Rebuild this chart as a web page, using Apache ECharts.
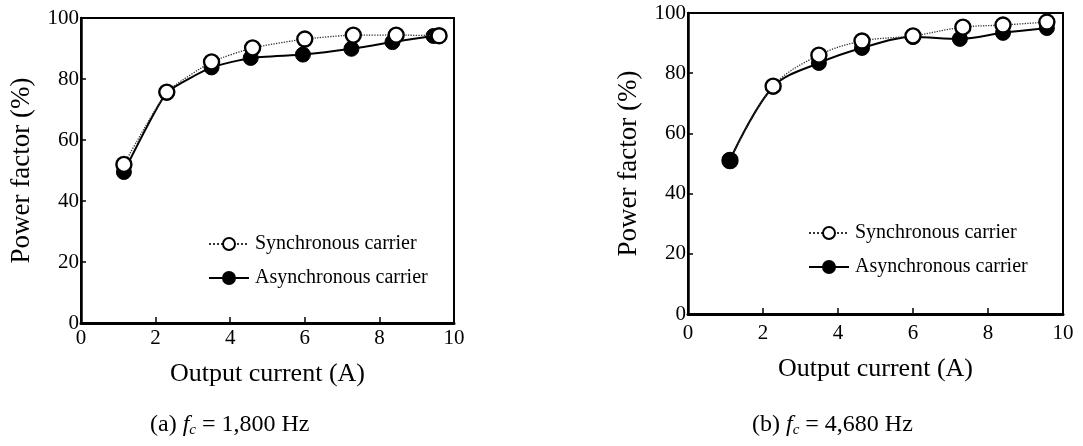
<!DOCTYPE html>
<html><head><meta charset="utf-8">
<script src="https://cdn.jsdelivr.net/npm/echarts@6/dist/echarts.min.js"></script>
<style>html,body{margin:0;padding:0;background:#fff}#c{width:1083px;height:446px}</style>
</head><body><div id="c"></div>
<script>
// ---- data ----
const xTicks = [0, 2, 4, 6, 8, 10];
const yTicks = [0, 20, 40, 60, 80, 100];
const seriesNames = ['Synchronous carrier', 'Asynchronous carrier'];
// (a) fc = 1,800 Hz
const syncA_x  = [1.15, 2.3, 3.5, 4.6, 6.0, 7.3, 8.45, 9.6];
const syncA_y  = [52.0, 75.7, 85.6, 90.2, 93.1, 94.4, 94.4, 94.2];
const asyncA_x = [1.15, 2.3, 3.5, 4.55, 5.95, 7.25, 8.35, 9.45];
const asyncA_y = [49.5, 75.5, 83.8, 86.9, 88.0, 89.9, 92.1, 94.1];
// (b) fc = 4,680 Hz
const syncB_x  = [1.12, 2.27, 3.49, 4.64, 6.0, 7.33, 8.4, 9.57];
const syncB_y  = [51.0, 75.7, 86.0, 90.7, 92.4, 95.3, 96.0, 97.0];
const asyncB_x = [1.12, 2.27, 3.49, 4.64, 6.0, 7.25, 8.4, 9.57];
const asyncB_y = [51.2, 75.5, 83.4, 88.4, 92.0, 91.4, 93.4, 95.0];

const FONT = 'Liberation Serif';
const pairs = (xs, ys) => xs.map((x, i) => [x, ys[i]]);

function xAxisCfg(gi, labelMargin, nameGap) {
  return {
    type: 'value', gridIndex: gi, min: xTicks[0], max: xTicks[xTicks.length - 1], interval: xTicks[1] - xTicks[0],
    name: 'Output current (A)', nameLocation: 'middle', nameGap,
    nameTextStyle: { fontFamily: FONT, fontSize: 26, color: '#000' },
    axisLine: { show: true, onZero: false, lineStyle: { color: '#000', width: 3 } },
    axisTick: { show: true, inside: true, length: 6, lineStyle: { color: '#000', width: 1.5 } },
    axisLabel: { fontFamily: FONT, fontSize: 21, color: '#000', margin: labelMargin },
    splitLine: { show: false }
  };
}
function yAxisCfg(gi, gap) {
  return {
    type: 'value', gridIndex: gi, min: yTicks[0], max: yTicks[yTicks.length - 1], interval: yTicks[1] - yTicks[0],
    name: 'Power factor (%)', nameLocation: 'middle', nameGap: gap, nameRotate: 90,
    nameTextStyle: { fontFamily: FONT, fontSize: 27, color: '#000' },
    axisLine: { show: true, lineStyle: { color: '#000', width: 2.5 } },
    axisTick: { show: true, inside: true, length: 5, lineStyle: { color: '#000', width: 1.5 } },
    axisLabel: { fontFamily: FONT, fontSize: 21, color: '#000', margin: 2 },
    splitLine: { show: false }
  };
}
function syncSeries(gi, data, smooth) {
  return {
    name: seriesNames[0], type: 'line', xAxisIndex: gi, yAxisIndex: gi, data, smooth, z: 4,
    symbol: 'circle', symbolSize: 15,
    lineStyle: { color: '#333', width: 1.3, type: 'dotted' },
    itemStyle: { color: '#fff', borderColor: '#000', borderWidth: 2.4 }
  };
}
function asyncSeries(gi, data, smooth) {
  return {
    name: seriesNames[1], type: 'line', xAxisIndex: gi, yAxisIndex: gi, data, smooth, z: 3,
    symbol: 'circle', symbolSize: 15,
    lineStyle: { color: '#000', width: 2 },
    itemStyle: { color: '#000', borderColor: '#000', borderWidth: 1 }
  };
}
const legendCfg = (left, top) => ({
  left, top, orient: 'vertical', itemWidth: 40, itemHeight: 15, itemGap: 14,
  data: seriesNames, selectedMode: false,
  textStyle: { fontFamily: FONT, fontSize: 20, color: '#000', padding: [0, 0, 0, 1] }
});

const syncBData = pairs(syncB_x, syncB_y);
syncBData[0] = { value: syncBData[0], itemStyle: { color: '#000' } };

const capRich = {
  n: { fontFamily: FONT, fontSize: 24, color: '#000' },
  i: { fontFamily: FONT, fontSize: 24, fontStyle: 'italic', color: '#000' },
  s: { fontFamily: FONT, fontSize: 15, fontStyle: 'italic', color: '#000', padding: [10, 0, 0, 0] }
};

const chart = echarts.init(document.getElementById('c'), null, { renderer: 'canvas' });
chart.setOption({
  animation: false,
  backgroundColor: '#fff',
  grid: [
    { left: 81, top: 18, width: 373, height: 305, show: true, borderColor: '#000', borderWidth: 2, backgroundColor: 'transparent' },
    { left: 688, top: 13, width: 375, height: 301, show: true, borderColor: '#000', borderWidth: 2, backgroundColor: 'transparent' }
  ],
  xAxis: [xAxisCfg(0, 5, 38), xAxisCfg(1, 9, 42)],
  yAxis: [yAxisCfg(0, 46), yAxisCfg(1, 46)],
  legend: [legendCfg(203, 229), legendCfg(803, 218)],
  series: [
    asyncSeries(0, pairs(asyncA_x, asyncA_y), 0.15),
    syncSeries(0, pairs(syncA_x, syncA_y), 0.15),
    asyncSeries(1, pairs(asyncB_x, asyncB_y), 0.35),
    syncSeries(1, syncBData, 0.35)
  ],
  graphic: [
    { type: 'text', left: 150, top: 413, style: { text: '{n|(a) }{i|f}{s|c}{n| = 1,800 Hz}', rich: capRich } },
    { type: 'text', left: 752, top: 413, style: { text: '{n|(b) }{i|f}{s|c}{n| = 4,680 Hz}', rich: capRich } }
  ]
});
</script></body></html>
